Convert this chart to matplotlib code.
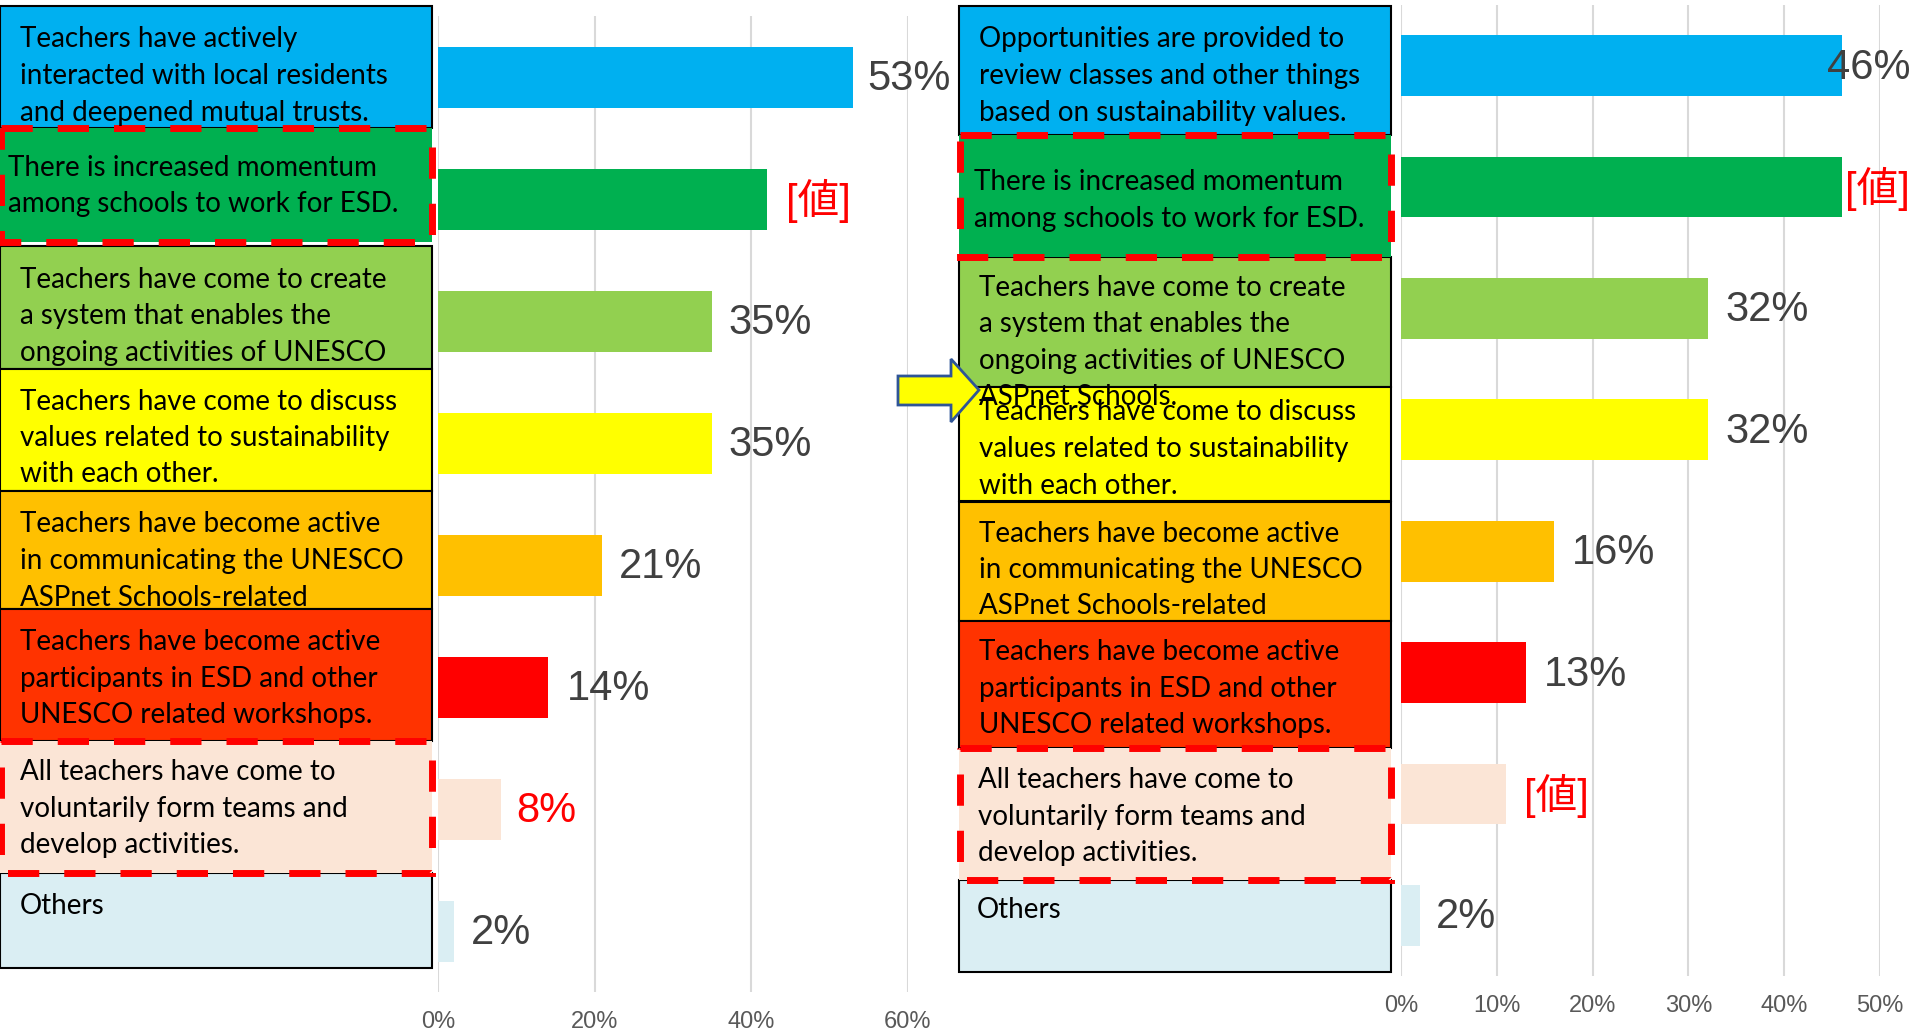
import matplotlib.pyplot as plt
from matplotlib.patches import Rectangle, Polygon

plt.rcParams['font.family'] = ['Liberation Sans', 'Noto Sans CJK JP']

# データ
left_values = [0.53, 0.42, 0.35, 0.35, 0.21, 0.14, 0.08, 0.02]
left_labels = ['53%', '[値]', '35%', '35%', '21%', '14%', '8%', '2%']
left_label_colors = ['#404040', '#FF0000', '#404040', '#404040', '#404040', '#404040', '#FF0000', '#404040']

right_values = [0.46, 0.46, 0.32, 0.32, 0.16, 0.13, 0.11, 0.02]
right_labels = ['46%', '[値]', '32%', '32%', '16%', '13%', '[値]', '2%']
right_label_colors = ['#404040', '#FF0000', '#404040', '#404040', '#404040', '#404040', '#FF0000', '#404040']

left_ticks = [0, 0.2, 0.4, 0.6]
right_ticks = [0, 0.1, 0.2, 0.3, 0.4, 0.5]

left_texts = [
    "Teachers have actively\ninteracted with local residents\nand deepened mutual trusts.",
    "There is increased momentum\namong schools to work for ESD.",
    "Teachers have come to create\na system that enables the\nongoing activities of UNESCO",
    "Teachers have come to discuss\nvalues related to sustainability\nwith each other.",
    "Teachers have become active\nin communicating the UNESCO\nASPnet Schools-related",
    "Teachers have become active\nparticipants in ESD and other\nUNESCO related workshops.",
    "All teachers have come to\nvoluntarily form teams and\ndevelop activities.",
    "Others",
]
right_texts = [
    "Opportunities are provided to\nreview classes and other things\nbased on sustainability values.",
    "There is increased momentum\namong schools to work for ESD.",
    "Teachers have come to create\na system that enables the\nongoing activities of UNESCO\nASPnet Schools.",
    "Teachers have come to discuss\nvalues related to sustainability\nwith each other.",
    "Teachers have become active\nin communicating the UNESCO\nASPnet Schools-related",
    "Teachers have become active\nparticipants in ESD and other\nUNESCO related workshops.",
    "All teachers have come to\nvoluntarily form teams and\ndevelop activities.",
    "Others",
]

bar_colors = ['#00B0F0', '#00B050', '#92D050', '#FFFF00', '#FFC000', '#FF0000', '#FBE5D6', '#DAEEF3']
box_colors = ['#00B0F0', '#00B050', '#92D050', '#FFFF00', '#FFC000', '#FF3300', '#FBE5D6', '#DAEEF3']
dashed_rows = [1, 6]

# レイアウト (ピクセル)
W, H = 1915, 1030
left_box_x = (0, 432)
left_box_y = [(6, 128), (128, 242), (246, 369), (369, 491), (491, 609), (609, 741), (741, 873), (873, 968)]
left_text_x = [20, 8, 20, 20, 20, 20, 20, 20]
left_text_y = [37, 165, 277, 399, 522, 640, 770, 903]
right_box_x = (959, 1391)
right_box_y = [(6, 135), (135, 257), (257, 387), (387, 501), (502, 621), (621, 748), (748, 880), (880, 972)]
right_text_x = [979, 974, 979, 979, 979, 979, 978, 977]
right_text_y = [37, 180, 285, 410, 531, 650, 778, 908]
line_step = 36.5
left_offsets = [14, 19, 16, 16, 16, 19, 16, 17]
right_offsets = [-15, 3, 18, 18, 18, 18, 18, 16]


def px_axes(fig, x0, x1, y0, y1):
    return fig.add_axes([x0 / W, (H - y1) / H, (x1 - x0) / W, (y1 - y0) / H])


def draw_bars(ax, values, labels, label_colors, offsets, ticks):
    n = len(values)
    ax.barh(range(n), values, height=0.5, color=bar_colors, zorder=3)
    ax.set_ylim(n - 0.5, -0.5)
    ax.set_xlim(ticks[0], ticks[-1])
    ax.set_xticks(ticks)
    ax.set_xticklabels([f"{t:.0%}" for t in ticks], fontsize=17, color='#595959')
    ax.set_yticks([])
    ax.tick_params(axis='x', length=0, pad=14)
    ax.grid(axis='x', color='#D9D9D9', lw=1.5, zorder=0)
    for s in ax.spines.values():
        s.set_visible(False)
    for i, (v, lab, c, dx) in enumerate(zip(values, labels, label_colors, offsets)):
        ax.annotate(lab, (v, i), xytext=(dx, -2), textcoords='offset pixels',
                    ha='left', va='center', fontsize=30, color=c,
                    family=['Liberation Sans', 'Noto Sans CJK JP'], annotation_clip=False)


def draw_boxes(ov, box_x, box_y, texts, text_x, text_y):
    x0, x1 = box_x
    for i, (y0, y1) in enumerate(box_y):
        if i in dashed_rows:
            ov.add_patch(Rectangle((x0, y0), x1 - x0, y1 - y0, facecolor=box_colors[i], edgecolor='none', zorder=2))
            ov.add_patch(Rectangle((x0 + 1, y0), x1 - x0 - 1, y1 - y0, facecolor='none', edgecolor='#FF0000',
                                   lw=5, linestyle=(0, (4.5, 3.6)), zorder=4))
        else:
            ov.add_patch(Rectangle((x0, y0), x1 - x0, y1 - y0, facecolor=box_colors[i], edgecolor='black',
                                   lw=1.5, zorder=1))
    for t, tx, ty in zip(texts, text_x, text_y):
        for k, line in enumerate(t.split('\n')):
            ov.text(tx, ty + k * line_step, line, ha='left', va='center_baseline', fontsize=20,
                    family='Lato', color='black', zorder=5)


fig = plt.figure(figsize=(W / 100, H / 100), dpi=100)

ax_l = px_axes(fig, 438, 908, 16, 992)
draw_bars(ax_l, left_values, left_labels, left_label_colors, left_offsets, left_ticks)

ax_r = px_axes(fig, 1401, 1880, 5, 976)
draw_bars(ax_r, right_values, right_labels, right_label_colors, right_offsets, right_ticks)

ov = fig.add_axes([0, 0, 1, 1], zorder=10)
ov.set_xlim(0, W)
ov.set_ylim(H, 0)
ov.axis('off')

draw_boxes(ov, left_box_x, left_box_y, left_texts, left_text_x, left_text_y)
draw_boxes(ov, right_box_x, right_box_y, right_texts, right_text_x, right_text_y)

# 矢印
arrow = Polygon([(898, 376), (951, 376), (951, 359), (979, 390), (951, 422), (951, 405), (898, 405)],
                closed=True, facecolor='#FFFF00', edgecolor='#2F5597', lw=2, zorder=6)
ov.add_patch(arrow)

fig.savefig('out.png', dpi=100)
plt.close(fig)
